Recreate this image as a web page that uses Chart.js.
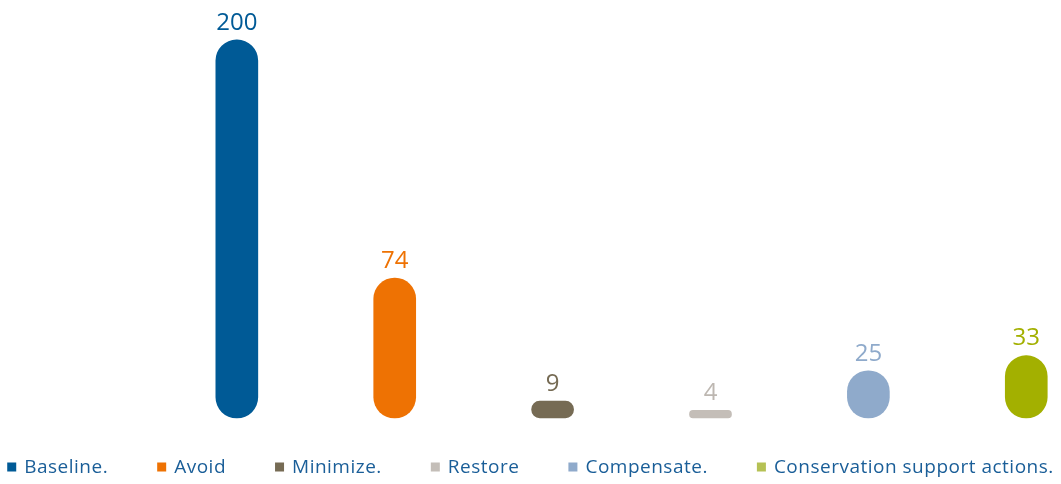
<!DOCTYPE html>
<html>
<head>
<meta charset="utf-8">
<script src="https://cdn.jsdelivr.net/npm/chart.js@4"></script>
<style>
  html, body { margin: 0; padding: 0; background: #fff; overflow: hidden; }
  #wrap { width: 1061px; height: 484px; }
</style>
</head>
<body>
<div id="wrap"><canvas id="chart"></canvas></div>
<script>
// mitigation hierarchy values
var categories = ['Baseline.', 'Avoid', 'Minimize.', 'Restore', 'Compensate.', 'Conservation support actions.'];
var values = [200, 74, 9, 4, 25, 33];
var barColors = ['#005a96', '#ee7203', '#766b54', '#c4beb8', '#8faacb', '#a3b000'];
var labelColors = ['#005a96', '#ee7203', '#766b54', '#bdb7b1', '#8faacb', '#a3b000'];
var legendColors = ['#005a96', '#ee7203', '#766b54', '#c4beb8', '#8faacb', '#b5c154'];
var legendTextColor = '#1a5e98';

// value above each bar, in the bar colour
var valueLabels = {
    id: 'valueLabels',
    afterDatasetsDraw: function (chart) {
        var ctx = chart.ctx;
        var meta = chart.getDatasetMeta(0);
        ctx.save();
        ctx.font = '24px "Open Sans"';
        ctx.textAlign = 'center';
        ctx.textBaseline = 'bottom';
        meta.data.forEach(function (bar, i) {
            ctx.fillStyle = labelColors[i];
            ctx.fillText(String(values[i]), bar.x, bar.y - 5);
        });
        ctx.restore();
    }
};

// one-row legend along the bottom (the built-in one wraps at this spacing)
var rowLegend = {
    id: 'rowLegend',
    afterDraw: function (chart) {
        var ctx = chart.ctx;
        var box = 9, gap = 8, spacing = 49;
        ctx.save();
        ctx.font = '19px "Open Sans"';
        ctx.letterSpacing = '0.5px';
        ctx.textBaseline = 'middle';
        ctx.textAlign = 'left';
        var widths = categories.map(function (c) { return ctx.measureText(c).width; });
        var total = widths.reduce(function (a, w) { return a + box + gap + w; }, 0) + spacing * (categories.length - 1);
        var x = (chart.width - total) / 2;
        var y = chart.chartArea.bottom + 50;
        categories.forEach(function (c, i) {
            ctx.fillStyle = legendColors[i];
            ctx.fillRect(x, y - box / 2 - 1, box, box);
            ctx.fillStyle = legendTextColor;
            ctx.fillText(c, x + box + gap, y);
            x += box + gap + widths[i] + spacing;
        });
        ctx.restore();
    }
};

var points = values.map(function (v, i) { return { x: i, y: v }; });

new Chart(document.getElementById('chart'), {
    type: 'bar',
    data: {
        datasets: [{
            data: points,
            backgroundColor: barColors,
            borderRadius: 21,
            borderSkipped: false,
            barThickness: 42,
            clip: false
        }]
    },
    options: {
        responsive: true,
        maintainAspectRatio: false,
        animation: false,
        layout: { padding: { top: 21, bottom: 66 } },
        scales: {
            x: { type: 'linear', display: false, offset: false, min: -1.5, max: 5.22 },
            y: { display: false, min: 0, max: 210 }
        },
        plugins: {
            tooltip: { enabled: false },
            legend: { display: false }
        }
    },
    plugins: [valueLabels, rowLegend]
});
</script>
</body>
</html>
